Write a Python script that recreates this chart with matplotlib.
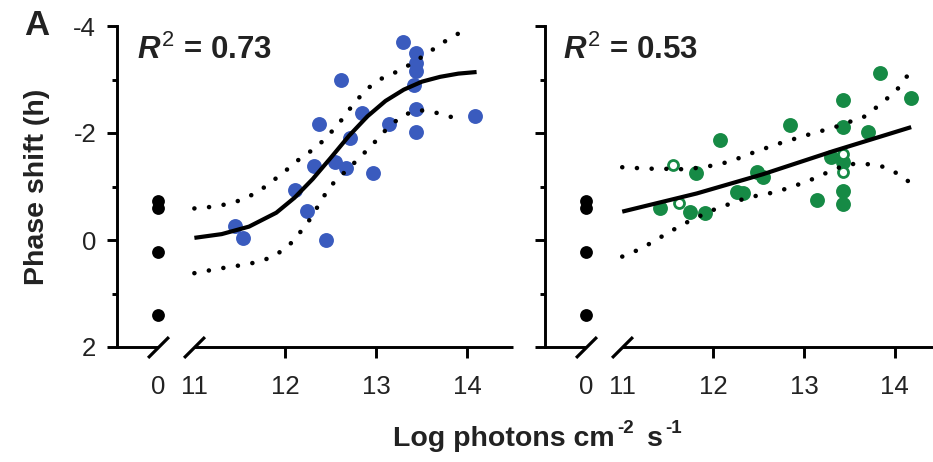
import numpy as np
import matplotlib
matplotlib.use('Agg')
import matplotlib.pyplot as plt
from matplotlib.path import Path
from matplotlib.ticker import FixedLocator

plt.rcParams['font.family'] = ['Liberation Sans', 'DejaVu Sans']
plt.rcParams['mathtext.fontset'] = 'custom'
plt.rcParams['mathtext.rm'] = 'Liberation Sans'
plt.rcParams['mathtext.it'] = 'Liberation Sans:italic:bold'
plt.rcParams['mathtext.bf'] = 'Liberation Sans:bold'

# ---------------- data ----------------
ctrl_x = [0, 0, 0, 0]
ctrl_y = [-0.72, -0.60, 0.22, 1.40]

blue_x = [13.29, 13.43, 13.43, 13.43, 13.41, 12.61, 12.84, 12.37, 13.43, 13.14, 14.08,
          13.43, 12.71, 12.31, 12.55, 12.67, 12.96, 12.10, 12.24, 11.45, 11.53, 12.45]
blue_y = [-3.71, -3.49, -3.30, -3.15, -2.90, -3.00, -2.38, -2.16, -2.44, -2.16, -2.31,
          -2.02, -1.90, -1.39, -1.45, -1.35, -1.26, -0.93, -0.54, -0.27, -0.03, 0.00]

left_fit_x = [11.0, 11.3, 11.6, 11.9, 12.1, 12.3, 12.5, 12.7, 12.9, 13.1, 13.3, 13.5, 13.7, 13.9, 14.1]
left_fit_y = [-0.04, -0.11, -0.25, -0.51, -0.79, -1.14, -1.54, -1.95, -2.31, -2.60, -2.81, -2.96,
              -3.05, -3.11, -3.14]
left_up_x = [11.0, 11.19, 11.36, 11.52, 11.70, 11.85, 12.02, 12.18, 12.34, 12.49, 12.63, 12.75,
             12.90, 13.06, 13.23, 13.39, 13.56, 13.72, 13.89, 14.0]
left_up_y = [-0.59, -0.62, -0.67, -0.75, -0.90, -1.09, -1.32, -1.55, -1.73, -1.99, -2.27, -2.55,
             -2.83, -3.02, -3.15, -3.30, -3.49, -3.68, -3.85, -3.93]
left_lo_x = [11.0, 11.19, 11.36, 11.52, 11.70, 11.85, 12.02, 12.16, 12.28, 12.38, 12.49, 12.64,
             12.81, 12.96, 13.12, 13.28, 13.45, 13.61, 13.78, 13.94]
left_lo_y = [0.62, 0.56, 0.51, 0.47, 0.41, 0.32, 0.14, -0.14, -0.41, -0.70, -1.00, -1.25,
             -1.53, -1.79, -2.09, -2.32, -2.43, -2.40, -2.32, -2.24]

green_x = [13.84, 14.18, 13.43, 12.85, 13.43, 13.71, 12.08, 13.30, 13.43, 12.48, 12.55, 11.81,
           12.26, 12.33, 13.14, 13.43, 13.43, 11.42, 11.75, 11.91]
green_y = [-3.12, -2.65, -2.62, -2.15, -2.11, -2.01, -1.86, -1.55, -1.46, -1.28, -1.18, -1.25,
           -0.90, -0.88, -0.75, -0.92, -0.67, -0.59, -0.52, -0.50]
open_x = [13.43, 13.43, 11.56, 11.62]
open_y = [-1.60, -1.28, -1.40, -0.69]

right_fit_x = [11.0, 11.82, 12.55, 13.32, 14.18]
right_fit_y = [-0.53, -0.87, -1.23, -1.66, -2.11]
right_up_x = [11.0, 11.21, 11.37, 11.54, 11.71, 11.87, 12.03, 12.21, 12.37, 12.70, 13.03, 13.34,
              13.67, 13.85, 14.02, 14.16]
right_up_y = [-1.36, -1.34, -1.33, -1.33, -1.32, -1.36, -1.40, -1.48, -1.59, -1.79, -1.96, -2.11,
              -2.31, -2.55, -2.80, -3.12]
right_lo_x = [11.0, 11.21, 11.37, 11.54, 11.70, 11.88, 12.04, 12.21, 12.37, 12.70, 13.03, 13.36,
              13.52, 13.69, 13.87, 14.02, 14.18]
right_lo_y = [0.31, 0.16, 0.0, -0.17, -0.32, -0.47, -0.59, -0.69, -0.79, -0.90, -1.09, -1.34,
              -1.42, -1.42, -1.37, -1.25, -1.06]

r2_labels = ['0.73', '0.53']
y_ticks = [-4, -2, 0, 2]
y_ticklabels = ['-4', '-2', '0', '2']
x_ticks = [12, 13, 14]
x_ticklabels = ['12', '13', '14']
x_break_ticks = [0, 11]
x_break_labels = ['0', '11']
xlabel_parts = ['Log photons cm', '-2', 's', '-1']

# ---------------- broken x scale ----------------
def fwd(x):
    x = np.asarray(x, dtype=float)
    return np.where(x >= 11, x, 10.6 + x * (0.4 / 11.0))

def inv(u):
    u = np.asarray(u, dtype=float)
    return np.where(u >= 11, u, (u - 10.6) * (11.0 / 0.4))

BLUE = '#3A5BBE'
GREEN = '#168A45'
TXT = '#222222'

fig = plt.figure(figsize=(9.33, 4.62), dpi=100)
W, H = 933, 462
ax1 = fig.add_axes([117 / W, (H - 347) / H, 396 / W, 321 / H])
ax2 = fig.add_axes([545 / W, (H - 347) / H, 388 / W, 321 / H])

slash = Path([(-1, -1), (1, 1)], [Path.MOVETO, Path.LINETO])

def style(ax, xmax, show_labels):
    ax.set_xscale('function', functions=(fwd, inv))
    ax.set_xlim(float(inv(10.15)), xmax)
    ax.set_ylim(2, -4)
    for s in ['top', 'right', 'bottom']:
        ax.spines[s].set_visible(False)
    ax.spines['left'].set_linewidth(2.1)
    ax.set_yticks(y_ticks)
    ax.set_yticklabels(y_ticklabels if show_labels else [])
    ax.yaxis.set_minor_locator(FixedLocator([-3, -1, 1]))
    ax.tick_params(axis='y', which='major', length=7, width=2.1, pad=8,
                   labelsize=18.5, labelcolor=TXT, labelleft=show_labels)
    ax.tick_params(axis='y', which='minor', length=3.8, width=2.1)
    ax.set_xticks(x_ticks)
    ax.set_xticklabels(x_ticklabels)
    ax.set_xticks(x_break_ticks, minor=True)
    ax.set_xticklabels(x_break_labels, minor=True)
    ax.tick_params(axis='x', which='major', length=8, width=2.1, pad=12,
                   labelsize=18.5, labelcolor=TXT)
    ax.tick_params(axis='x', which='minor', length=0, width=0, pad=20,
                   labelsize=18.5, labelcolor=TXT)
    xt = ax.get_xaxis_transform()
    x0, x1 = ax.get_xlim()
    ax.plot([x0, 0], [0, 0], transform=xt, color='k', lw=2.1, clip_on=False,
            solid_capstyle='butt')
    ax.plot([11, x1], [0, 0], transform=xt, color='k', lw=2.1, clip_on=False,
            solid_capstyle='butt')
    ax.plot(x_break_ticks, [0, 0], transform=xt, ls='none', marker=slash, ms=15,
            mew=2.3, mec='k', clip_on=False)
    ax.scatter(ctrl_x, ctrl_y, s=85, color='k', zorder=3, clip_on=False, linewidths=0)

dot_style = dict(color='k', lw=3.3, ls=(0, (0.01, 3.2)), dash_capstyle='round', zorder=5,
                 clip_on=False)

style(ax1, 14.5, True)
ax1.scatter(blue_x, blue_y, s=115, color=BLUE, zorder=3, linewidths=0, clip_on=False)
ax1.plot(left_fit_x, left_fit_y, color='k', lw=3.0, zorder=6, solid_capstyle='butt')
ax1.plot(left_up_x, left_up_y, **dot_style)
ax1.plot(left_lo_x, left_lo_y, **dot_style)

style(ax2, 14.42, False)
ax2.scatter(green_x, green_y, s=115, color=GREEN, zorder=3, linewidths=0, clip_on=False)
ax2.plot(open_x, open_y, ls='none', marker='o', ms=7.2, mfc='white', mec=GREEN, mew=2.0,
         zorder=4)
ax2.plot(right_fit_x, right_fit_y, color='k', lw=3.0, zorder=6, solid_capstyle='butt')
ax2.plot(right_up_x, right_up_y, **dot_style)
ax2.plot(right_lo_x, right_lo_y, **dot_style)

for ax, lab, xo in [(ax1, r2_labels[0], 20 / 396), (ax2, r2_labels[1], 18 / 388)]:
    ax.text(xo, (347 - 59) / 321, r'$R^2$ = ' + lab, transform=ax.transAxes,
            fontsize=22.5, fontweight='bold', color=TXT, ha='left', va='baseline')

ax1.set_ylabel('Phase shift (h)', fontsize=20.5, fontweight='bold', color=TXT, va='center')
ax1.yaxis.set_label_coords((37 - 117) / 396, 0.5)

# x label built from pieces so the superscripts keep a plain hyphen
renderer = fig.canvas.get_renderer()
specs = [(xlabel_parts[0], 20.5, 0, 3), (xlabel_parts[1], 13.5, 13, 13),
         (xlabel_parts[2], 20.5, 0, 2), (xlabel_parts[3], 13.5, 13, 0)]
pieces = []
for txt, fs, dy, gap in specs:
    t = fig.text(0, (H - 446 + dy) / H, txt, fontsize=fs, fontweight='bold', color=TXT,
                 ha='left', va='baseline')
    pieces.append((t, gap))
widths = [t.get_window_extent(renderer).width for t, _ in pieces]
total = sum(widths) + sum(g for _, g in pieces)
xpos = 537 - total / 2
for (t, gap), w in zip(pieces, widths):
    t.set_x(xpos / W)
    xpos += w + gap

fig.text(37 / W, (H - 35) / H, 'A', fontsize=25, fontweight='bold', color=TXT,
         ha='center', va='baseline')

fig.savefig('out.png', dpi=100)
